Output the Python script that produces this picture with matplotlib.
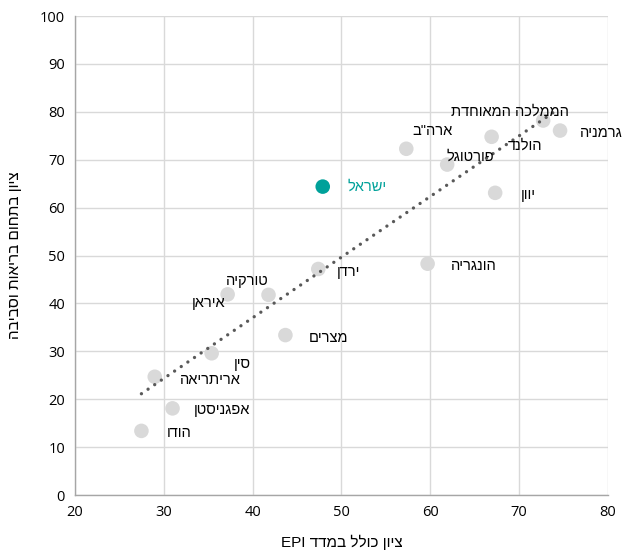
import numpy as np
import matplotlib
matplotlib.use("Agg")
import matplotlib.pyplot as plt

plt.rcParams["font.family"] = ["Open Sans", "DejaVu Sans"]

# ── data ────────────────────────────────────────────────────────────────────
countries = ["הודו", "אפגניסטן", "אריתריאה", "סין", "איראן", "טורקיה", "מצרים",
             "ירדן", "ישראל", "הונגריה", "ארה\"ב", "פורטוגל", "הולנד", "יוון",
             "הממלכה המאוחדת", "גרמניה"]
epi_total = [27.5, 31.0, 29.0, 35.4, 37.2, 41.8, 43.7,
             47.4, 47.9, 59.7, 57.3, 61.9, 66.9, 67.3, 72.7, 74.6]
env_health = [13.4, 18.1, 24.7, 29.6, 41.9, 41.8, 33.4,
              47.2, 64.4, 48.3, 72.3, 69.0, 74.8, 63.1, 78.2, 76.1]
# label anchor (data coords)
label_x = [31.7, 36.6, 35.2, 38.9, 35.1, 39.4, 48.5,
           50.8, 52.9, 64.9, 60.2, 64.5, 70.7, 71.0, 69.0, 79.2]
label_y = [12.9, 17.7, 24.0, 27.3, 40.1, 44.7, 32.8,
           46.6, 64.3, 47.8, 76.0, 70.6, 72.9, 62.6, 80.0, 75.6]

x_ticks = [20, 30, 40, 50, 60, 70, 80]
y_ticks = [0, 10, 20, 30, 40, 50, 60, 70, 80, 90, 100]
x_title = "ציון כולל במדד EPI"
y_title = "ציון בתחום בריאות וסביבה"
highlight = "ישראל"

GREY = "#d9d9d9"
TEAL = "#00a19a"
HEB_FONT = ["Liberation Sans", "DejaVu Sans"]


def visual(s):
    """matplotlib has no bidi – flip Hebrew into visual order."""
    words = s.split(" ")
    out = []
    for w in reversed(words):
        if any("\u0590" <= ch <= "\u05ff" for ch in w):
            out.append(w[::-1])
        else:
            out.append(w)
    return " ".join(out)


fig = plt.figure(figsize=(6.23, 5.55), dpi=100)
ax = fig.add_axes([0.12, 0.108, 0.856, 0.863])

colors = [TEAL if c == highlight else GREY for c in countries]
ax.scatter(epi_total, env_health, s=110, color=colors, zorder=3, linewidths=0)

# linear trendline over the data range
k, b = np.polyfit(epi_total, env_health, 1)
xs = np.array([min(epi_total), max(epi_total) - 0.8])
ax.plot(xs, k * xs + b, color="#595959", lw=2.4, ls=(0, (0.01, 2.4)),
        dash_capstyle="round", zorder=4)

for c, lx, ly in zip(countries, label_x, label_y):
    ax.text(lx, ly, visual(c), ha="center", va="center", fontsize=10.5,
            family=HEB_FONT,
            color=TEAL if c == highlight else "#000000", clip_on=False,
            zorder=5)

ax.set_xlim(20, 80)
ax.set_ylim(0, 100)
ax.set_xticks(x_ticks)
ax.set_yticks(y_ticks)
ax.tick_params(labelsize=10.5, length=0, pad=7, colors="#000000")
ax.grid(True, color="#d9d9d9", lw=1.0, zorder=0)
ax.set_axisbelow(True)
for side in ["top", "right"]:
    ax.spines[side].set_visible(False)
for side in ["left", "bottom"]:
    ax.spines[side].set_color("#a6a6a6")
    ax.spines[side].set_linewidth(1.0)

ax.set_xlabel(visual(x_title), fontsize=11, labelpad=11, family=HEB_FONT)
ax.set_ylabel(visual(y_title), fontsize=11, labelpad=13, family=HEB_FONT)

fig.savefig("out.png", dpi=100)
